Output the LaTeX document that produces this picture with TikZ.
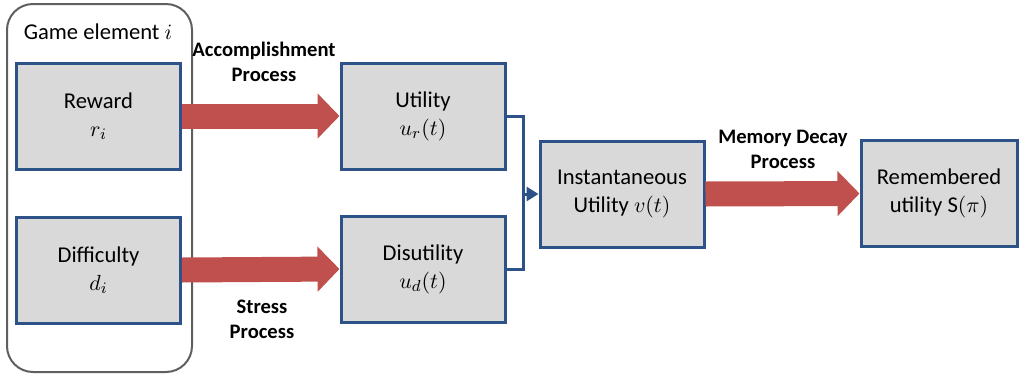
\documentclass[tikz,border=0pt]{standalone}
\usepackage{fontspec}
\setmainfont{Carlito}
\usepackage{tikz}
\usetikzlibrary{arrows.meta}
\definecolor{boxblue}{RGB}{44,82,135}
\definecolor{boxgray}{RGB}{217,217,217}
\definecolor{procred}{RGB}{192,80,77}
\definecolor{framegray}{RGB}{95,95,95}

\begin{document}
\begin{tikzpicture}[x=0.5pt, y=-0.5pt,
    box/.style={draw=boxblue, line width=1.5pt, fill=boxgray, minimum width=82pt,
      minimum height=53pt, align=center, font=\fontsize{11.3}{14}\selectfont},
    proclabel/.style={align=center, font=\fontsize{10.3}{12.5}\selectfont\bfseries},
    bigarrow/.style={draw=procred, line width=12.5pt,
      -{Triangle[width=22pt, length=11pt]}},
    link/.style={draw=boxblue, line width=1.5pt}]
    \useasboundingbox (0,0) rectangle (1019,376);

    % Game element frame
    \draw[framegray, line width=1pt, rounded corners=13pt] (7,4) rectangle (192,372);
    \node[font=\fontsize{11.3}{14}\selectfont] (gamelabel) at (98,32) {Game element $i$};

    % Boxes
    \node[box] (reward) at (98.5,116) {Reward\\$r_i$};
    \node[box] (difficulty) at (98.5,270) {Difficulty\\$d_i$};
    \node[box] (utility) at (423,116) {Utility\\$u_r(t)$};
    \node[box] (disutility) at (423,269) {Disutility\\$u_d(t)$};
    \node[box] (instant) at (622,194) {Instantaneous\\Utility $v(t)$};
    \node[box, minimum width=78pt] (remembered) at (939,193.5) {Remembered\\utility S$(\pi)$};

    % Process arrows
    \draw[bigarrow] (reward.east) -- (utility.west);
    \draw[bigarrow] (difficulty.east) -- (disutility.west);
    \draw[bigarrow] (instant.east) -- (remembered.west);

    % Process labels
    \node[proclabel] (accomp) at (264,62) {Accomplishment\\Process};
    \node[proclabel] (stress) at (262,319) {Stress\\Process};
    \node[proclabel] (memory) at (783,149) {Memory Decay\\Process};

    % Joining utilities
    \coordinate (join) at (523,194);
    \draw[link] (utility.east) -| (join) |- (disutility.east);
    \draw[link, -{Triangle[width=7pt, length=6pt]}] (join) -- (instant.west);
\end{tikzpicture}
\end{document}
